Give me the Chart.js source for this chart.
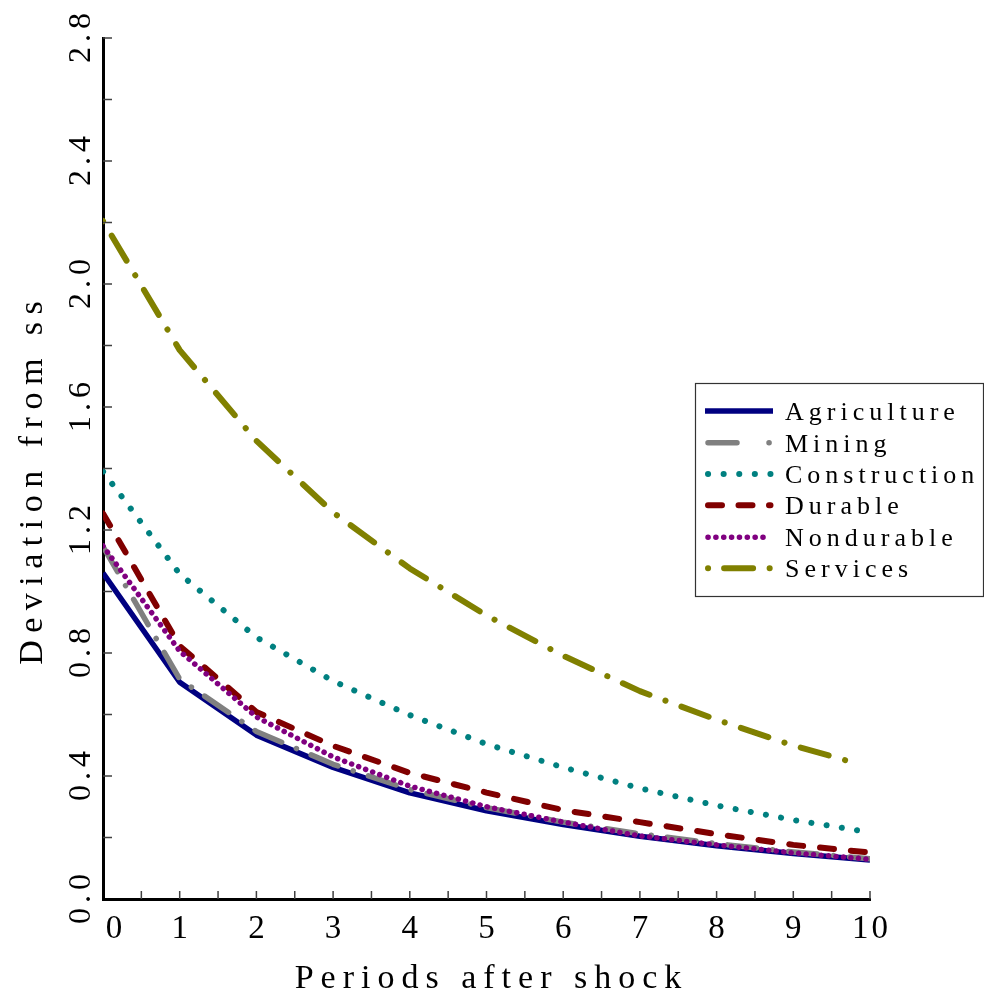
<!DOCTYPE html>
<html>
<head>
<meta charset="utf-8">
<script src="https://cdn.jsdelivr.net/npm/chart.js@4/dist/chart.umd.min.js"></script>
<style>
  html, body { margin: 0; padding: 0; background: #ffffff; }
  canvas { display: block; }
</style>
</head>
<body>
<canvas id="c" width="984" height="995"></canvas>
<script>
// ---- data ----
const periods = [0, 1, 2, 3, 4, 5, 6, 7, 8, 9, 10];
const servicesPeriods = [0, 1, 2, 3, 4, 5, 6, 7, 8, 9, 9.7];
const agriculture  = [1.06, 0.705, 0.533, 0.428, 0.345, 0.287, 0.242, 0.204, 0.173, 0.148, 0.127];
const mining       = [1.146, 0.715, 0.545, 0.438, 0.356, 0.297, 0.25, 0.212, 0.18, 0.153, 0.131];
const construction = [1.39, 1.057, 0.851, 0.709, 0.598, 0.504, 0.428, 0.36, 0.304, 0.257, 0.217];
const durable      = [1.254, 0.823, 0.608, 0.498, 0.41, 0.346, 0.289, 0.25, 0.211, 0.176, 0.151];
const nondurable   = [1.148, 0.806, 0.592, 0.462, 0.367, 0.30, 0.25, 0.205, 0.176, 0.15, 0.129];
const services     = [2.205, 1.785, 1.49, 1.257, 1.075, 0.922, 0.791, 0.676, 0.583, 0.499, 0.45];
const seriesNames  = ['Agriculture', 'Mining', 'Construction', 'Durable', 'Nondurable', 'Services'];
const xTickValues  = [0, 1, 2, 3, 4, 5, 6, 7, 8, 9, 10];
const xTickLabels  = ['0', '1', '2', '3', '4', '5', '6', '7', '8', '9', '10'];
const yTickValues  = [0, 0.4, 0.8, 1.2, 1.6, 2.0, 2.4, 2.8];
const yTickLabels  = ['0.0', '0.4', '0.8', '1.2', '1.6', '2.0', '2.4', '2.8'];
const xTitle = 'Periods after shock';
const yTitle = 'Deviation from ss';

const FONT = '"Liberation Serif", "DejaVu Serif", serif';

function pts(xs, ys) { return ys.map((v, i) => ({ x: xs[i], y: v })); }

const styles = [
  { color: '#000080', width: 5.5, dash: [],                legendDash: [],                cap: 'butt'  },
  { color: '#808080', width: 5.5, dash: [29, 16, 0.1, 16], legendDash: [29, 32, 0.1, 40], cap: 'round' },
  { color: '#008080', width: 6,   dash: [0.1, 15.3],       legendDash: [0.1, 15.5],       cap: 'round' },
  { color: '#800000', width: 6,   dash: [14, 17],          legendDash: [14, 16.5],        cap: 'round' },
  { color: '#800080', width: 5.5, dash: [0.1, 7.4],        legendDash: [0.1, 7.75],       cap: 'round' },
  { color: '#808000', width: 6,   dash: [0.1, 17, 29, 17], legendDash: [0.1, 16, 29, 16.5], cap: 'round' }
];
const seriesValues = [agriculture, mining, construction, durable, nondurable, services];

const datasets = seriesNames.map((name, i) => ({
  label: name,
  data: pts(i === 5 ? servicesPeriods : periods, seriesValues[i]),
  borderColor: styles[i].color,
  backgroundColor: styles[i].color,
  borderWidth: styles[i].width,
  borderDash: styles[i].dash,
  borderCapStyle: styles[i].cap,
  borderJoinStyle: 'round',
  pointRadius: 0,
  tension: 0,
  fill: false,
  order: seriesNames.length - i
}));

function spacedText(ctx, text, x, y, spacing) {
  ctx.letterSpacing = spacing + 'px';
  const shift = (ctx.textAlign === 'center') ? spacing / 2 : 0;
  ctx.fillText(text, x + shift, y);
  ctx.letterSpacing = '0px';
}

const decorPlugin = {
  id: 'decor',
  afterDraw(chart) {
    const ctx = chart.ctx;
    const xs = chart.scales.x, ys = chart.scales.y;
    const x0 = xs.getPixelForValue(0), yb = ys.getPixelForValue(0);
    ctx.save();
    // inside tick marks
    ctx.strokeStyle = '#404040';
    ctx.lineWidth = 1.5;
    ctx.beginPath();
    for (let k = 1; k <= 20; k++) {
      const px = xs.getPixelForValue(k * 0.5);
      ctx.moveTo(px, yb); ctx.lineTo(px, yb - 8);
    }
    for (let k = 1; k <= 14; k++) {
      const py = ys.getPixelForValue(k * 0.2);
      ctx.moveTo(x0, py); ctx.lineTo(x0 + 9, py);
    }
    ctx.stroke();

    ctx.fillStyle = '#000';
    // x tick labels
    ctx.font = '33px ' + FONT;
    ctx.textAlign = 'center';
    ctx.textBaseline = 'alphabetic';
    xTickValues.forEach((v, i) => {
      let px = xs.getPixelForValue(v);
      if (i === 0) px += 11;
      spacedText(ctx, xTickLabels[i], px, 938, 3);
    });
    // y tick labels (rotated)
    ctx.font = '32px ' + FONT;
    yTickValues.forEach((v, i) => {
      const py = ys.getPixelForValue(v);
      ctx.save();
      ctx.translate(90, py);
      ctx.rotate(-Math.PI / 2);
      spacedText(ctx, yTickLabels[i], 0, 0, 5);
      ctx.restore();
    });
    // axis titles
    ctx.font = '34px ' + FONT;
    spacedText(ctx, xTitle, 488, 988, 7);
    ctx.save();
    ctx.translate(42, 483);
    ctx.rotate(-Math.PI / 2);
    spacedText(ctx, yTitle, 0, 0, 7.5);
    ctx.restore();

    // legend
    const lx = 695, ly = 383, lw = 288, lh = 213;
    ctx.fillStyle = '#fff';
    ctx.fillRect(lx, ly, lw, lh);
    ctx.strokeStyle = '#333';
    ctx.lineWidth = 1.2;
    ctx.strokeRect(lx + 0.5, ly + 0.5, lw, lh);
    const rowY = [411, 442.7, 474, 505.3, 537.3, 568.3];
    seriesNames.forEach((name, i) => {
      const ds = chart.data.datasets[i];
      const y = rowY[i];
      ctx.save();
      ctx.strokeStyle = ds.borderColor;
      ctx.lineWidth = ds.borderWidth;
      ctx.lineCap = ds.borderCapStyle;
      ctx.setLineDash(styles[i].legendDash);
      ctx.beginPath();
      if (i === 0) { ctx.moveTo(705, y); ctx.lineTo(773, y); }
      else { ctx.moveTo(708, y); ctx.lineTo(770.5, y); }
      ctx.stroke();
      ctx.restore();
      ctx.fillStyle = '#000';
      ctx.font = '26px ' + FONT;
      ctx.textAlign = 'left';
      ctx.textBaseline = 'alphabetic';
      spacedText(ctx, ds.label, 785, y + 9, 5);
    });
    ctx.restore();
  }
};

new Chart(document.getElementById('c'), {
  type: 'line',
  data: { datasets },
  options: {
    responsive: false,
    animation: false,
    devicePixelRatio: 1,
    layout: { padding: { left: 0, right: 114, top: 38, bottom: 0 } },
    plugins: { legend: { display: false }, tooltip: { enabled: false } },
    scales: {
      x: {
        type: 'linear', min: 0, max: 10,
        ticks: { display: false },
        grid: { display: false },
        border: { display: true, color: '#000', width: 3 },
        afterFit(s) { s.height = 96; }
      },
      y: {
        type: 'linear', min: 0, max: 2.8,
        ticks: { display: false },
        grid: { display: false },
        border: { display: true, color: '#000', width: 3 },
        afterFit(s) { s.width = 103; }
      }
    }
  },
  plugins: [decorPlugin]
});
</script>
</body>
</html>
